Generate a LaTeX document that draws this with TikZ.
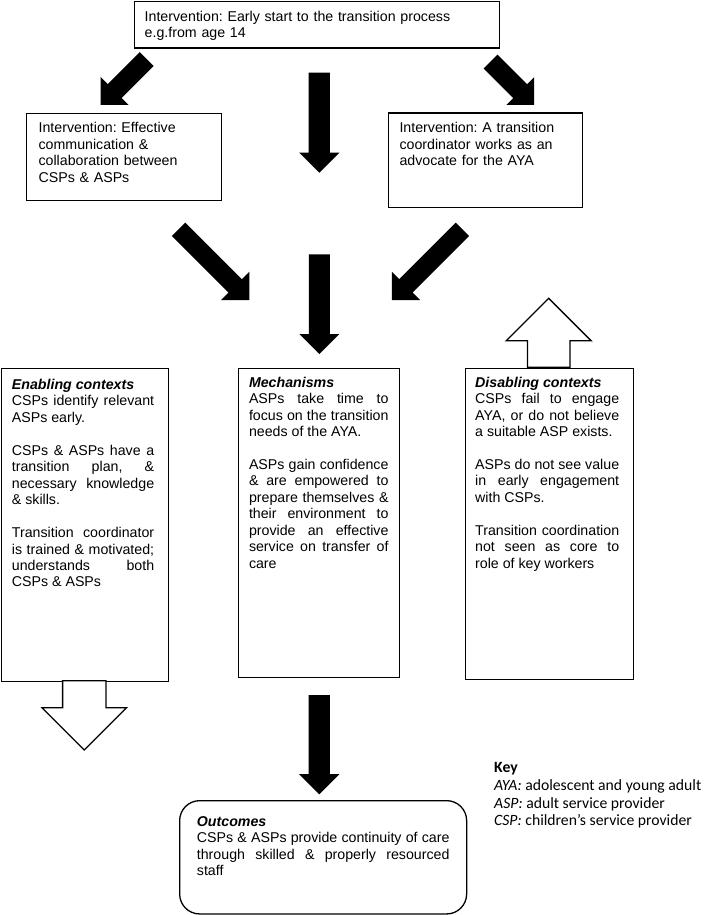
\documentclass[tikz,border=0pt]{standalone}
\usepackage{fontspec}
\setmainfont{Liberation Sans}
\newfontfamily\keyfont{Carlito}
\setlength\parindent{0pt}
\frenchspacing
\tolerance=9999
\hyphenpenalty=10000
\exhyphenpenalty=10000
\newcommand{\gap}{\par\vspace{16.45pt}}
% block arrow: #1 style, #2 tip coordinate, #3 direction angle, #4 length, #5 half shaft width, #6 half head width (= head length)
\newcommand{\blockarrow}[6]{%
  \begin{scope}[shift={(#2)}, rotate=#3]
    \path[#1] (0pt,0pt) -- (-#6pt,#6pt) -- (-#6pt,#5pt) -- (-#4pt,#5pt) -- (-#4pt,-#5pt) -- (-#6pt,-#5pt) -- (-#6pt,-#6pt) -- cycle;
  \end{scope}}
\begin{document}
\begin{tikzpicture}[x=1pt, y=-1pt,
  box/.style={draw, line width=1.3pt, inner sep=0pt, anchor=north west},
  txt/.style={anchor=north west, inner sep=0pt, font=\frenchspacing\fontsize{14.2}{16.45}\selectfont},
  keytxt/.style={anchor=north west, inner sep=0pt, align=left, font=\frenchspacing\keyfont\fontsize{15.7}{17.8}\selectfont},
  solidarrow/.style={fill=black},
  hollowarrow/.style={draw=black, fill=white, line width=1.3pt, line join=miter}]
\fill[white] (0,0) rectangle (709,915);
\useasboundingbox (0,0) rectangle (709,915);

% boxes
\node[box, minimum width=365pt, minimum height=46.3pt] (top) at (133.5,1) {};
\node[box, minimum width=194.8pt, minimum height=87.3pt] (comm) at (25.7,112.7) {};
\node[box, minimum width=193.5pt, minimum height=94.4pt] (coord) at (388,112.3) {};
\node[box, minimum width=167.3pt, minimum height=312.7pt] (enab) at (0.7,368) {};
\node[box, minimum width=161.1pt, minimum height=309pt] (mech) at (238,367.7) {};
\node[box, minimum width=167.5pt, minimum height=311.5pt] (disab) at (465,367.5) {};
\node[box, rounded corners=20pt, minimum width=287pt, minimum height=113.3pt] (outc) at (179,800) {};

% texts
\node[txt, text width=350pt, align=left] (topt) at (144.5,10) {\rule{0pt}{11pt}Intervention: Early start to the transition process\\e.g.from age 14};
\node[txt, text width=185pt, align=left] (commt) at (38.4,121.7) {\rule{0pt}{11pt}Intervention: Effective\\communication \&\\collaboration between\\CSPs \& ASPs};
\node[txt, text width=185pt, align=left] (coordt) at (399.3,121.7) {\rule{0pt}{11pt}Intervention: A transition\\coordinator works as an\\advocate for the AYA};
\node[txt, text width=142.3pt, align=justify] (enabt) at (11.7,378.3) {\rule{0pt}{11pt}\textbf{\textit{Enabling contexts}}\\
CSPs identify relevant \linebreak ASPs early.\gap
CSPs \& ASPs have a \linebreak transition plan, \& \linebreak necessary knowledge \linebreak \& skills.\gap
Transition coordinator \linebreak is trained \& motivated; \linebreak understands both \linebreak CSPs \& ASPs};
\node[txt, text width=139.5pt, align=justify] (mecht) at (248.8,376) {\rule{0pt}{11pt}\textbf{\textit{Mechanisms}}\\
ASPs take time to \linebreak focus on the transition \linebreak needs of the AYA.\gap
ASPs gain confidence \linebreak \& are empowered to \linebreak prepare themselves \& \linebreak their environment to \linebreak provide an effective \linebreak service on transfer of \linebreak care};
\node[txt, text width=144pt, align=justify] (disabt) at (475,376) {\rule{0pt}{11pt}\textbf{\textit{Disabling contexts}}\\
CSPs fail to engage \linebreak AYA, or do not believe \linebreak a suitable ASP exists.\gap
ASPs do not see value \linebreak in early engagement \linebreak with CSPs.\gap
Transition coordination \linebreak not seen as core to \linebreak role of key workers};
\node[txt, text width=252.6pt, align=justify] (outct) at (196.7,815) {\rule{0pt}{11pt}\textbf{\textit{Outcomes}}\\
CSPs \& ASPs provide continuity of care \linebreak through skilled \& properly resourced \linebreak staff};
\node[keytxt] (key) at (494,760.3) {\rule{0pt}{12pt}\textbf{Key}\\\textit{AYA:} adolescent and young adult\\\textit{ASP:} adult service provider\\\textit{CSP:} children’s service provider};

% arrow tips
\coordinate (a1) at (100.7,105);
\coordinate (a2) at (319.3,172.7);
\coordinate (a3) at (534,105);
\coordinate (a4) at (249.3,300);
\coordinate (a5) at (319.3,354);
\coordinate (a6) at (391.8,300);
\coordinate (a7) at (319.3,794.3);
\coordinate (h1) at (84.3,750);
\coordinate (h2) at (548.7,298.3);

\blockarrow{solidarrow}{a1}{225}{65}{9.8}{19.8}
\blockarrow{solidarrow}{a2}{270}{100}{10.6}{20.1}
\blockarrow{solidarrow}{a3}{315}{61.4}{9.8}{19.6}
\blockarrow{solidarrow}{a4}{315}{100}{9.5}{20}
\blockarrow{solidarrow}{a5}{270}{99.7}{10.5}{20}
\blockarrow{solidarrow}{a6}{225}{100}{9.5}{20}
\blockarrow{solidarrow}{a7}{270}{99.3}{10.6}{20.1}
\blockarrow{hollowarrow}{h1}{270}{69.3}{21.7}{42.2}
\blockarrow{hollowarrow}{h2}{90}{69}{21.2}{42.5}
\end{tikzpicture}
\end{document}
